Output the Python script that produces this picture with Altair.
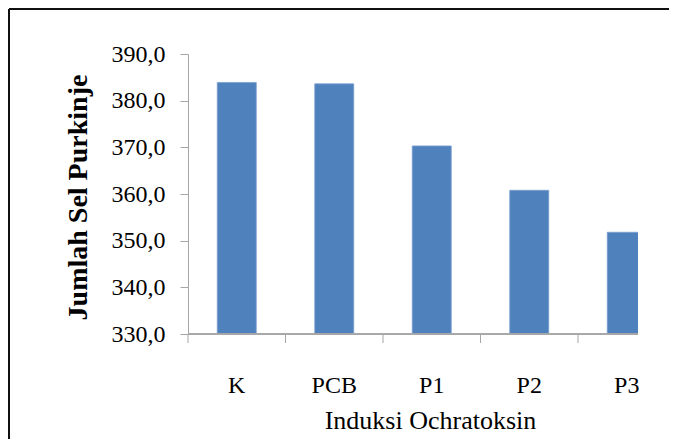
import altair as alt
import pandas as pd

categories = ["K", "PCB", "P1", "P2", "P3"]
values = [383.9, 383.6, 370.3, 360.8, 351.8]
y_ticks = [330, 340, 350, 360, 370, 380, 390]

df = pd.DataFrame({"kategori": categories, "jumlah": values})

FONT = "Liberation Serif"
W, H = 450, 280
STEP_RANGE = 487.5
GREY = "#a6a6a6"

xscale = alt.Scale(domain=categories, range=[0, STEP_RANGE], paddingInner=0, paddingOuter=0)
yscale = alt.Scale(domain=[330, 390], nice=False, zero=False)

x_axis = alt.Axis(title="Induksi Ochratoksin", domain=False, ticks=False, tickSize=0,
                  labelAngle=0, labelFont=FONT, labelFontSize=24, labelColor="black",
                  labelFontWeight="normal",
                  labelBaseline="alphabetic", labelPadding=58,
                  titleFont=FONT, titleFontSize=26, titleFontWeight="normal",
                  titleColor="black", titleX=242, titleY=94,
                  titleAlign="center", titleBaseline="alphabetic")

base = alt.Chart(df)

bars = base.mark_bar(width=alt.RelativeBandSize(0.4), color="#4F81BD", clip=True,
                     stroke="#7B9FD0", strokeWidth=0.8).encode(
    x=alt.X("kategori:N", scale=xscale, sort=categories, axis=x_axis),
    y=alt.Y("jumlah:Q", scale=yscale,
            axis=alt.Axis(title="Jumlah Sel Purkinje", values=y_ticks,
                          labelExpr="replace(format(datum.value, '.1f'), '.', ',')",
                          grid=False, domainColor=GREY, tickColor=GREY, tickSize=8,
                          labelFont=FONT, labelFontSize=24, labelColor="black",
                          labelFontWeight="normal",
                          labelPadding=15,
                          titleFont=FONT, titleFontSize=28, titleFontWeight="bold",
                          titleColor="black", titleX=-110, titleY=143, titleAngle=-90,
                          titleAlign="center", titleBaseline="middle")),
)

x_ticks = base.mark_rule(color=GREY, strokeWidth=1).encode(
    x=alt.X("kategori:N", scale=xscale, sort=categories, bandPosition=0, axis=x_axis),
    y=alt.value(H),
    y2=alt.value(H + 9),
)

x_domain = base.mark_rule(color=GREY, strokeWidth=1).encode(
    x=alt.value(0), x2=alt.value(W), y=alt.value(H)
)

frame_left = base.mark_rule(color="#111111", strokeWidth=1.5).encode(
    x=alt.value(-179), y=alt.value(-45), y2=alt.value(420)
)
frame_top = base.mark_rule(color="#111111", strokeWidth=1.5).encode(
    x=alt.value(-179), x2=alt.value(500), y=alt.value(-45)
)

chart = alt.layer(bars, x_ticks, x_domain, frame_left, frame_top).properties(
    width=W, height=H,
    background="white",
    autosize=alt.AutoSizeParams(type="none"),
    padding={"left": 180, "top": 46, "right": 31, "bottom": 105},
).configure(font=FONT).configure_view(strokeWidth=0).configure_axis(
    labelFont=FONT, titleFont=FONT)

chart.save("out.html", embed_options={"renderer": "svg", "actions": False})
